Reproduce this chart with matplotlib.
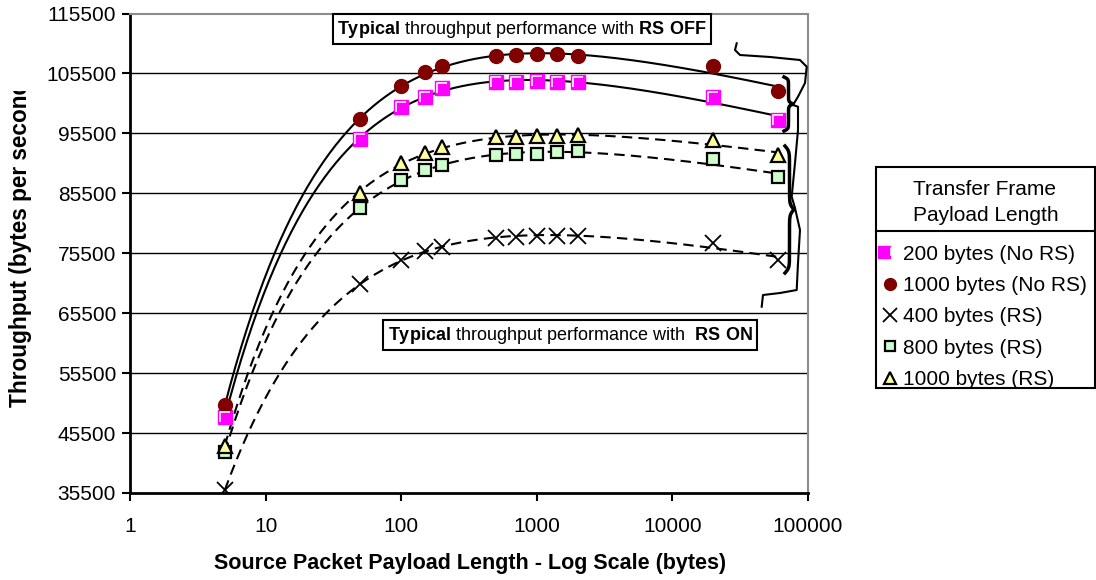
import numpy as np
import matplotlib
matplotlib.use("Agg")
import matplotlib.pyplot as plt
from matplotlib.path import Path
from matplotlib.lines import Line2D
from matplotlib.patches import Rectangle
from matplotlib.transforms import Bbox, TransformedBbox
from matplotlib.legend_handler import HandlerTuple

plt.rcParams['font.family'] = ['Liberation Sans', 'DejaVu Sans']
plt.rcParams['mathtext.fontset'] = 'custom'
plt.rcParams['mathtext.rm'] = 'Liberation Sans'
plt.rcParams['mathtext.bf'] = 'Liberation Sans:bold'

# ---------------- data ----------------
packet_len = [5, 50, 100, 150, 200, 500, 700, 1000, 1400, 2000, 20000, 60000]
nors_200 = [48140, 94540, 99950, 101630, 103040, 104050, 104050, 104260, 104050, 104050, 101630, 97720]
nors_1000 = [50100, 97890, 103480, 105660, 106780, 108340, 108510, 108740, 108740, 108340, 106660, 102590]
rs_400 = [35960, 70440, 74410, 75800, 76480, 78050, 78270, 78440, 78440, 78440, 77150, 74370]
rs_800 = [42270, 83020, 87780, 89450, 90180, 91850, 92020, 92140, 92310, 92530, 91180, 88170]
rs_1000 = [43400, 85600, 90630, 92240, 93150, 94820, 94900, 95090, 95090, 95200, 94370, 91850]
labels = ["200 bytes (No RS)", "1000 bytes (No RS)", "400 bytes (RS)", "800 bytes (RS)", "1000 bytes (RS)"]
yticks = [35500, 45500, 55500, 65500, 75500, 85500, 95500, 105500, 115500]
xticks = [1, 10, 100, 1000, 10000, 100000]

W, H = 1096, 580
fig = plt.figure(figsize=(W / 100, H / 100), dpi=100)
ax = fig.add_axes([130 / W, 1 - 493 / H, (808 - 130) / W, (493 - 13.5) / H])

ax.set_xscale('log')
ax.set_xlim(1, 100000)
ax.set_ylim(35500, 115500)
ax.set_yticks(yticks)
ax.set_yticklabels([str(v) for v in yticks])
ax.set_xticks(xticks)
ax.set_xticklabels([str(v) for v in xticks])
ax.xaxis.set_minor_locator(matplotlib.ticker.NullLocator())
ax.tick_params(axis='both', labelsize=15, length=6, width=1.5, direction='out', color='black')
ax.tick_params(axis='x', pad=11)
ax.tick_params(axis='y', pad=4)
for v in yticks[1:-1]:
    ax.axhline(v, color='black', lw=1, zorder=0)
for s in ['left', 'bottom']:
    ax.spines[s].set_linewidth(2)
    ax.spines[s].set_color('black')
for s in ['top', 'right']:
    ax.spines[s].set_linewidth(1.5)
    ax.spines[s].set_color('#8c8c8c')

# trend lines: least-squares fit with basis [1, log10 x, x^-p]
lx = np.log10(packet_len)
xarr = np.asarray(packet_len, dtype=float)
xs = np.logspace(np.log10(5), np.log10(60000), 400)
def trend(vals, ls):
    vals = np.asarray(vals, dtype=float)
    best = None
    for p in np.linspace(0.2, 1.5, 131):
        A = np.column_stack([np.ones_like(lx), lx, xarr ** -p])
        coef, *_ = np.linalg.lstsq(A, vals, rcond=None)
        r = np.sum((A @ coef - vals) ** 2)
        if best is None or r < best[0]:
            best = (r, p, coef)
    _, p, coef = best
    yv = coef[0] + coef[1] * np.log10(xs) + coef[2] * xs ** -p
    ax.plot(xs, yv, color='black', lw=1.5, ls=ls, zorder=2)

trend(nors_1000, '-')
trend(nors_200, '-')
trend(rs_1000, (0, (5, 3)))
trend(rs_800, (0, (5, 3)))
trend(rs_400, (0, (5, 3)))

# markers
gamma = Path([(-0.45, -0.45), (-0.45, 0.45), (0.45, 0.45)], [Path.MOVETO, Path.LINETO, Path.LINETO])
h1, = ax.plot(packet_len, nors_200, ls='none', marker='s', ms=10, mfc='#ff00ff', mec='#ff00ff', zorder=3)
h1b, = ax.plot(packet_len, nors_200, ls='none', marker=gamma, ms=7, mfc='none', mec='white', mew=1.2, zorder=4)
h2, = ax.plot(packet_len, nors_1000, ls='none', marker='o', ms=10, mfc='#800000', mec='#800000', zorder=3)
h3, = ax.plot(packet_len, rs_400, ls='none', marker='x', ms=12, mec='black', mew=1.3, zorder=3)
h4, = ax.plot(packet_len, rs_800, ls='none', marker='s', ms=8.5, mfc='#ccffcc', mec='black', mew=1.6, zorder=3)
h5, = ax.plot(packet_len, rs_1000, ls='none', marker='^', ms=10, mfc='#ffff99', mec='black', mew=1.6, zorder=3)

# annotation boxes
box = dict(boxstyle='square,pad=0.25', fc='white', ec='black', lw=1.5)
fig.text(522 / W, 1 - 29 / H, r"$\bf{Typical}$ throughput performance with $\bf{RS\ OFF}$",
         ha='center', va='center', fontsize=13, bbox=box, zorder=10)
fig.text(570 / W, 1 - 335 / H, r"$\bf{Typical}$ throughput performance with  $\bf{RS\ ON}$",
         ha='center', va='center', fontsize=13, bbox=box, zorder=10)

# axis labels
fig.text(470 / W, 1 - 563 / H, "Source Packet Payload Length - Log Scale (bytes)", ha='center', va='center',
         fontsize=15.5, fontweight='bold')
yl = fig.text(21 / W, 1 - 407 / H, "Throughput (bytes per second)", rotation=90, ha='center', va='bottom',
              fontsize=16.3, fontweight='bold')
yl.set_clip_on(True)
yl.set_clip_box(TransformedBbox(Bbox.from_extents(0, 0, 1, 1 - 91 / H), fig.transFigure))

# braces (figure pixel coordinates, decoration)
def px(xp, yp):
    return np.asarray(xp) / W, 1 - np.asarray(yp) / H

def brace(x0, y0, y1, w, lw=2.5):
    n = 200
    t = np.linspace(0, 1, n // 2)
    beta = 25.0
    half = 1 / (1 + np.exp(-beta * (t - t[0]))) + 1 / (1 + np.exp(-beta * (t - t[-1])))
    prof = np.concatenate([half, half[-2::-1]]) - 0.5
    yy = np.linspace(y0, y1, len(prof))
    fx, fy = px(x0 + prof * w, yy)
    fig.add_artist(Line2D(fx, fy, color='black', lw=lw, transform=fig.transFigure))

brace(784, 77, 131, 9)
brace(785, 146, 273, 9)
hand_x = [736.7, 735, 740, 770, 800, 806.7, 805, 798, 793, 798, 798, 795, 791.7, 795, 800, 798, 796.7, 780, 763, 761.7]
hand_y = [43.3, 50, 55, 57, 60, 66.7, 83, 96.7, 105, 106.7, 130, 163, 196.7, 208, 230, 263, 290, 293, 295, 306.7]
fx, fy = px(hand_x, hand_y)
fig.add_artist(Line2D(fx, fy, color='black', lw=1.5, transform=fig.transFigure))

# legend (own frame + title separator)
leg = fig.legend([(h1, h1b), h2, h3, h4, h5], labels,
                 handler_map={tuple: HandlerTuple(ndivide=None)},
                 loc='upper left', bbox_to_anchor=(876 / W, 0, (1095 - 876) / W, 1 - 174 / H),
                 mode='expand', title="Transfer Frame\nPayload Length", title_fontsize=15,
                 fontsize=15, frameon=False,
                 borderpad=0.3, labelspacing=0.59, handlelength=0.7, handletextpad=0.3,
                 borderaxespad=0, markerscale=0.85)
leg.get_title().set_linespacing(1.47)
leg._legend_box.sep = 14
fx0, fy0 = px(876, 388)
fx1, fy1 = px(1095, 166.7)
fig.add_artist(Rectangle((fx0, fy0), fx1 - fx0, fy1 - fy0, transform=fig.transFigure,
                         fill=False, ec='black', lw=1.5))
fx, fy = px([876, 1095], [230.7, 230.7])
fig.add_artist(Line2D(fx, fy, color='black', lw=1.5, transform=fig.transFigure))

fig.savefig("out.png", dpi=100)
